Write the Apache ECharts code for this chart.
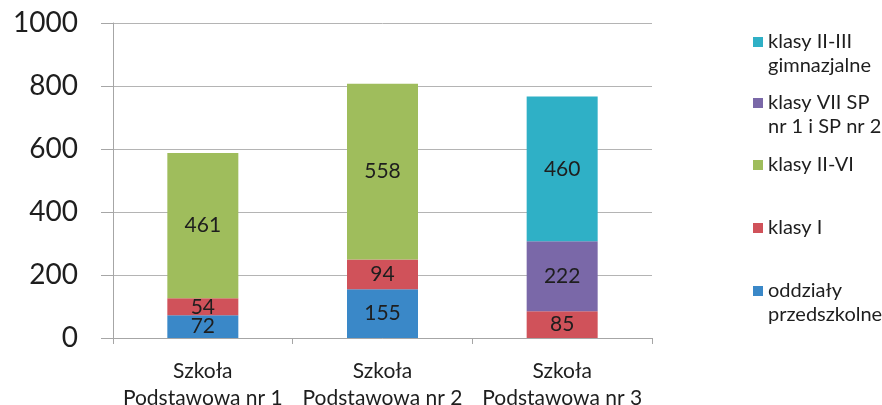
<!DOCTYPE html>
<html>
<head>
<meta charset="utf-8">
<script src="https://cdn.jsdelivr.net/npm/echarts@6/dist/echarts.min.js"></script>
<style>html,body{margin:0;padding:0;background:#fff}#c{width:882px;height:405px}</style>
</head>
<body>
<div id="c"></div>
<script>
var categories = ['Szkoła\nPodstawowa nr 1', 'Szkoła\nPodstawowa nr 2', 'Szkoła\nPodstawowa nr 3'];
var seriesNames = ['oddziały\nprzedszkolne', 'klasy I', 'klasy II-VI', 'klasy VII SP\nnr 1 i SP nr 2', 'klasy II-III\ngimnazjalne'];
var oddzialy = [72, 155, null];
var klasyI = [54, 94, 85];
var klasyIIVI = [461, 558, null];
var klasyVII = [null, null, 222];
var klasyIIIII = [null, null, 460];
var yTicks = [0, 200, 400, 600, 800, 1000];

var colors = ['#3a88c8', '#d0525a', '#9fbd5c', '#7a68a8', '#2fb0c6'];
var values = [oddzialy, klasyI, klasyIIVI, klasyVII, klasyIIIII];
var FONT = 'Lato';
var TXT = '#1e1e1e';
var LEG_FS = 20;

var series = seriesNames.map(function (n, i) {
  return {
    name: n, type: 'bar', stack: 'a', barWidth: 71,
    data: values[i],
    itemStyle: { color: colors[i] },
    label: { show: true, position: 'inside', color: TXT, fontSize: 21, fontFamily: FONT },
    emphasis: { disabled: true }
  };
});

// legend order (top to bottom): reverse of series; icon aligned with first line
var legendCenters = [42, 103, 165, 228, 291];
var legendOrder = [4, 3, 2, 1, 0];
var legends = legendOrder.map(function (si, k) {
  return {
    data: [seriesNames[si]],
    orient: 'vertical', left: 753, top: legendCenters[k] - 12, padding: 0,
    icon: 'rect', itemWidth: 10, itemHeight: 10, itemGap: 0,
    selectedMode: false,
    formatter: function (name) { return name.split('\n')[0]; },
    textStyle: { fontFamily: FONT, fontSize: LEG_FS, color: TXT, lineHeight: 24 }
  };
});
// second lines of the two-line legend entries
var graphics = [];
legendOrder.forEach(function (si, k) {
  var parts = seriesNames[si].split('\n');
  if (parts.length > 1) {
    graphics.push({
      type: 'text', left: 768, top: legendCenters[k] + 24 - 12, silent: true,
      style: { text: parts[1], fill: TXT, fontFamily: FONT, fontSize: LEG_FS, lineHeight: 24 }
    });
  }
});

var chart = echarts.init(document.getElementById('c'));
chart.setOption({
  animation: false,
  color: colors,
  grid: { left: 113, right: 230, top: 23, bottom: 67, containLabel: false, outerBoundsMode: 'none' },
  legend: legends,
  graphic: graphics,
  xAxis: {
    type: 'category', data: categories,
    axisLine: { lineStyle: { color: '#a6a6a6', width: 1 } },
    axisTick: { show: true, length: 6, lineStyle: { color: '#a6a6a6' } },
    axisLabel: { interval: 0, fontFamily: FONT, fontSize: 21, color: TXT, lineHeight: 27, margin: 20 }
  },
  yAxis: {
    type: 'value', min: 0, max: 1000, interval: 200,
    axisLine: { show: true, lineStyle: { color: '#a6a6a6', width: 1 } },
    axisTick: { show: true, length: 12, lineStyle: { color: '#a6a6a6' } },
    splitLine: { lineStyle: { color: '#b4b4b4' } },
    axisLabel: { fontFamily: FONT, fontSize: 28, color: TXT, margin: 35,
      formatter: function (v) { return yTicks.indexOf(v) >= 0 ? String(v) : ''; } }
  },
  series: series
});
</script>
</body>
</html>
